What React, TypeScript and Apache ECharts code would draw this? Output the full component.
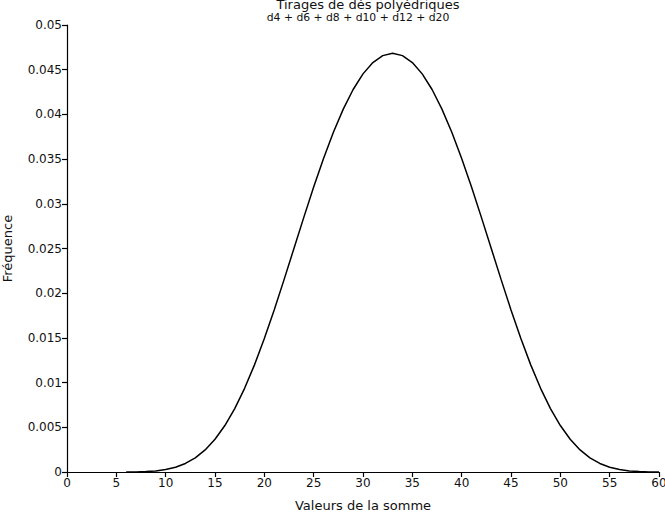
import React, { useEffect, useRef } from "react";
import * as echarts from "echarts";

const sums = [6,7,8,9,10,11,12,13,14,15,16,17,18,19,20,21,22,23,24,25,26,27,28,29,30,31,32,33,34,35,36,37,38,39,40,41,42,43,44,45,46,47,48,49,50,51,52,53,54,55,56,57,58,59,60];
const freq = [
  0.0000022, 0.0000130, 0.0000456, 0.0001215, 0.0002713, 0.0005339, 0.0009549, 0.0015842, 0.0024718, 0.0036632,
  0.0051953, 0.0070920, 0.0093598, 0.0119835, 0.0149262, 0.0181293, 0.0215169, 0.0250000, 0.0284831, 0.0318707,
  0.0350716, 0.0380035, 0.0405946, 0.0427865, 0.0445334, 0.0458030, 0.0465734, 0.0468316, 0.0465734, 0.0458030,
  0.0445334, 0.0427865, 0.0405946, 0.0380035, 0.0350716, 0.0318707, 0.0284831, 0.0250000, 0.0215169, 0.0181293,
  0.0149262, 0.0119835, 0.0093598, 0.0070920, 0.0051953, 0.0036632, 0.0024718, 0.0015842, 0.0009549, 0.0005339,
  0.0002713, 0.0001215, 0.0000456, 0.0000130, 0.0000022,
];
const titleText = "Tirages de dés polyédriques";
const subtitleText = "d4 + d6 + d8 + d10 + d12 + d20";
const xName = "Valeurs de la somme";
const yName = "Fréquence";

const FONT = "DejaVu Sans";

export default function App() {
  const ref = useRef<HTMLDivElement>(null);
  useEffect(() => {
    if (!ref.current) return;
    const chart = echarts.init(ref.current, null, { renderer: "svg" });
    const axisCommon = {
      axisLine: { show: true, lineStyle: { color: "#000", width: 1.2 } },
      axisTick: { show: true, length: 5, lineStyle: { color: "#000", width: 1.2 } },
      axisLabel: { color: "#111", fontFamily: FONT, fontSize: 12 },
      splitLine: { show: false },
      nameTextStyle: { color: "#111", fontFamily: FONT, fontSize: 13 },
    };
    chart.setOption({
      animation: false,
      textStyle: { fontFamily: FONT },
      grid: { left: 67, right: 6, top: 25, bottom: 40, containLabel: false, outerBoundsMode: "none" },
      graphic: [
        { type: "text", x: 368, y: -2, style: { text: titleText, fontFamily: FONT, fontSize: 13, fill: "#111", textAlign: "center", textVerticalAlign: "top" } },
        { type: "text", x: 358, y: 12, style: { text: subtitleText, fontFamily: FONT, fontSize: 10.8, fill: "#111", textAlign: "center", textVerticalAlign: "top" } },
      ],
      xAxis: {
        type: "value",
        min: 0,
        max: 60,
        interval: 5,
        name: xName,
        nameLocation: "middle",
        nameGap: 27,
        ...axisCommon,
        axisLabel: { ...axisCommon.axisLabel, margin: 5, showMaxLabel: true },
      },
      yAxis: {
        type: "value",
        min: 0,
        max: 0.05,
        interval: 0.005,
        name: yName,
        nameLocation: "middle",
        nameRotate: 90,
        nameGap: 53,
        ...axisCommon,
        axisLabel: { ...axisCommon.axisLabel, margin: 5 },
      },
      series: [
        {
          type: "line",
          data: sums.map((s, i) => [s, freq[i]]),
          showSymbol: false,
          symbol: "none",
          lineStyle: { color: "#000", width: 1.5 },
          smooth: false,
        },
      ],
    });
    return () => chart.dispose();
  }, []);
  return <div ref={ref} style={{ width: 665, height: 512, position: "absolute", left: 0, top: 0, background: "#fff" }} />;
}
